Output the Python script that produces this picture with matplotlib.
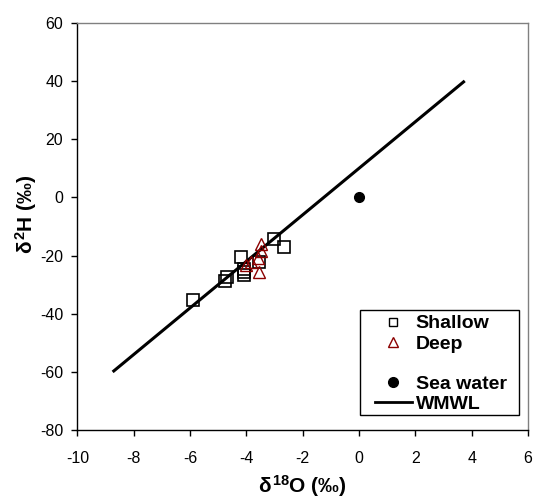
import matplotlib
matplotlib.use("Agg")
import matplotlib.pyplot as plt
from matplotlib.lines import Line2D
from matplotlib.patches import Rectangle

plt.rcParams['font.family'] = ['Liberation Sans', 'DejaVu Sans']
plt.rcParams['axes.unicode_minus'] = False
plt.rcParams['mathtext.fontset'] = 'custom'
plt.rcParams['mathtext.rm'] = 'Liberation Sans:bold'
plt.rcParams['mathtext.it'] = 'Liberation Sans:bold'
plt.rcParams['mathtext.bf'] = 'Liberation Sans:bold'

# -----------------------
# Data
# -----------------------
shallow_o18 = [-5.9, -4.7, -4.75, -4.2, -4.07, -4.07, -4.07, -3.55, -3.02, -2.67]
shallow_h2 = [-35.2, -27.3, -28.8, -20.6, -24.6, -25.7, -26.6, -22.3, -14.4, -17.1]

deep_o18 = [-3.49, -3.49, -3.84, -3.6, -3.55, -4.02]
deep_h2 = [-16.0, -18.6, -22.2, -21.0, -25.7, -23.4]

sea_o18 = [0.0]
sea_h2 = [0.0]

# WMWL: d2H = 8 * d18O + 10
wmwl_o18 = [-8.75, 3.75]
wmwl_h2 = [8 * v + 10 for v in wmwl_o18]

xticks = [-10, -8, -6, -4, -2, 0, 2, 4, 6]
yticks = [-80, -60, -40, -20, 0, 20, 40, 60]

fig = plt.figure(figsize=(5.34, 4.99), dpi=100)
ax = fig.add_axes([0.145, 0.138, 0.844, 0.8165])

ax.plot(wmwl_o18, wmwl_h2, color='black', lw=2.2, solid_capstyle='butt', zorder=2)
ax.plot(shallow_o18, shallow_h2, 's', ms=8, mfc='none', mec='black', mew=1.2, zorder=3)
ax.plot(deep_o18, deep_h2, '^', ms=8.5, mfc='none', mec='#8b0000', mew=1.0, zorder=3)
ax.plot(sea_o18, sea_h2, 'o', ms=7, color='black', zorder=3)

ax.set_xlim(-10, 6)
ax.set_ylim(-80, 60)
ax.set_xticks(xticks)
ax.set_yticks(yticks)
ax.tick_params(direction='out', length=4.3, width=1, labelsize=11.5, top=False, right=False)
ax.tick_params(axis='x', pad=10.5)
ax.tick_params(axis='y', pad=6)

for side in ['top', 'right']:
    ax.spines[side].set_color('#808080')
    ax.spines[side].set_linewidth(1)
for side in ['left', 'bottom']:
    ax.spines[side].set_color('black')
    ax.spines[side].set_linewidth(1)

ax.set_xlabel(r'$\delta^{18}$O (‰)', fontsize=15, fontweight='bold')
ax.set_ylabel(r'$\delta^{2}$H (‰)', fontsize=15, fontweight='bold')
ax.xaxis.set_label_coords(0.4995, -0.105)
ax.yaxis.set_label_coords(-0.085, 0.53)

# legend box drawn separately (wide side padding, tight top/bottom)
ax.add_patch(Rectangle((0.627, 0.0368), 0.353, 0.2578, transform=ax.transAxes,
                       fill=False, edgecolor='black', lw=1, zorder=4))

handles = [
    Line2D([], [], ls='none', marker='s', ms=5.5, mfc='none', mec='black', mew=1),
    Line2D([], [], ls='none', marker='^', ms=6.5, mfc='none', mec='#8b0000', mew=1),
    Line2D([], [], ls='none'),
    Line2D([], [], ls='none', marker='o', ms=7, color='black'),
    Line2D([], [], color='black', lw=2),
]
labels = ['Shallow', 'Deep', '', 'Sea water', 'WMWL']
leg = ax.legend(handles, labels, loc='upper left', bbox_to_anchor=(0.660, 0.283),
                borderaxespad=0, frameon=False, handlelength=1.9,
                handletextpad=0.2, labelspacing=0.13, borderpad=0,
                prop={'weight': 'bold', 'size': 14})

fig.savefig('out.png', dpi=100)
